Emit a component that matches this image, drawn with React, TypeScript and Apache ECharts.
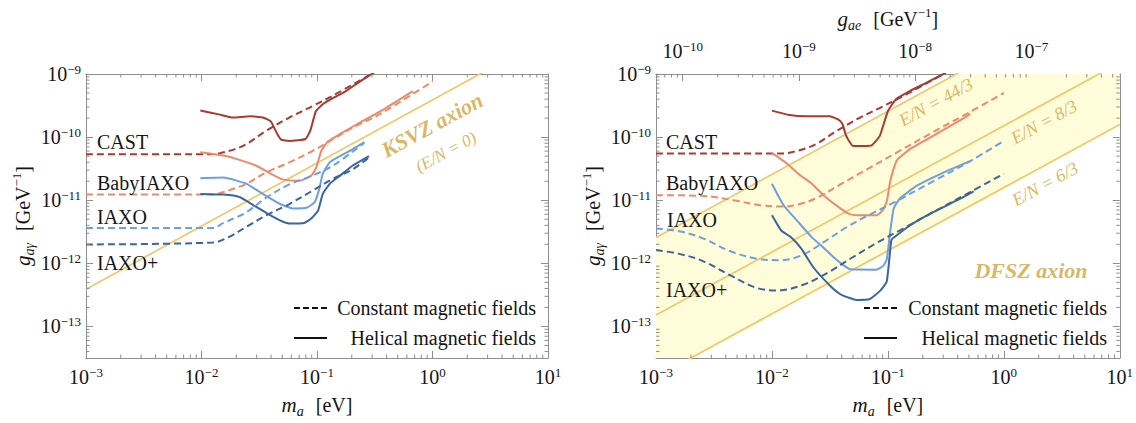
import React, { useEffect, useRef } from "react";
import * as echarts from "echarts";

// Values read from the log–log picture, stored as exponents:
// [log10(m_a / eV), log10(g / GeV^-1)]

// ---- left panel (KSVZ) ----
const castConstL = [[-3, -10.27], [-1.9, -10.27], [-1.81, -10.24], [-1.71, -10.19], [-1.61, -10.11], [-1.44, -9.9], [-1.24, -9.69], [-1.04, -9.51], [-0.86, -9.34], [-0.55, -9.02]];
const castHelL = [[-2.01, -9.58], [-1.85, -9.64], [-1.73, -9.69], [-1.58, -9.67], [-1.47, -9.69], [-1.4, -9.75], [-1.35, -9.93], [-1.31, -10.04], [-1.24, -10.06], [-1.1, -10.03], [-1.055, -9.88], [-1.01, -9.59], [-0.95, -9.48], [-0.86, -9.38], [-0.75, -9.27], [-0.63, -9.12], [-0.5, -8.97]];
const babyConstL = [[-3, -10.91], [-1.9, -10.91], [-1.81, -10.87], [-1.71, -10.81], [-1.61, -10.74], [-1.44, -10.56], [-1.24, -10.4], [-1.04, -10.22], [-0.86, -10.03], [-0.66, -9.82], [-0.46, -9.64], [0.0, -9.12]];
const babyHelL = [[-2.01, -10.24], [-1.76, -10.31], [-1.53, -10.45], [-1.38, -10.6], [-1.3, -10.67], [-1.15, -10.69], [-1.05, -10.61], [-1.006, -10.48], [-0.963, -10.22], [-0.906, -10.07], [-0.8, -9.95], [-0.63, -9.77], [-0.46, -9.6], [-0.17, -9.27]];
const iaxoConstL = [[-3, -11.44], [-1.9, -11.44], [-1.81, -11.36], [-1.71, -11.28], [-1.61, -11.19], [-1.44, -10.96], [-1.24, -10.75], [-1.04, -10.61], [-0.86, -10.45], [-0.59, -10.09]];
const iaxoHelL = [[-2.01, -10.65], [-1.81, -10.64], [-1.61, -10.74], [-1.47, -10.9], [-1.32, -11.06], [-1.21, -11.13], [-1.09, -11.12], [-1.02, -11.03], [-0.98, -10.82], [-0.95, -10.58], [-0.89, -10.4], [-0.8, -10.3], [-0.69, -10.19], [-0.59, -10.08]];
const iaxoPlusConstL = [[-3, -11.7], [-1.9, -11.67], [-1.76, -11.58], [-1.61, -11.42], [-1.44, -11.24], [-1.24, -11.06], [-1.04, -10.85], [-0.86, -10.66], [-0.69, -10.51], [-0.55, -10.32]];
const iaxoPlusHelL = [[-2.01, -10.9], [-1.81, -10.91], [-1.67, -10.95], [-1.55, -11.08], [-1.44, -11.2], [-1.32, -11.32], [-1.24, -11.37], [-1.11, -11.36], [-1.05, -11.29], [-0.99, -11.16], [-0.95, -10.9], [-0.89, -10.74], [-0.8, -10.61], [-0.69, -10.45], [-0.55, -10.3]];
const ksvzLine = [[-3, -12.41], [1, -8.41]];

// ---- right panel (DFSZ) ----
const castConstR = [[-3, -10.26], [-1.9, -10.26], [-1.81, -10.23], [-1.71, -10.18], [-1.61, -10.1], [-1.44, -9.9], [-1.24, -9.69], [-1.04, -9.51], [-0.86, -9.34], [-0.52, -9.0]];
const castHelR = [[-2.0, -9.58], [-1.85, -9.65], [-1.7, -9.67], [-1.5, -9.67], [-1.42, -9.73], [-1.39, -9.8], [-1.36, -9.98], [-1.3, -10.14], [-1.21, -10.14], [-1.14, -10.13], [-1.07, -9.98], [-1.0, -9.59], [-0.93, -9.4], [-0.81, -9.27], [-0.67, -9.14], [-0.5, -8.98]];
const babyConstR = [[-3, -10.92], [-2.61, -10.93], [-2.33, -11.0], [-2.1, -11.08], [-1.9, -11.1], [-1.76, -11.06], [-1.61, -10.96], [-1.41, -10.75], [-1.18, -10.51], [-0.9, -10.22], [-0.61, -9.92], [-0.3, -9.61], [0.0, -9.3]];
const babyHelR = [[-2.0, -10.25], [-1.87, -10.42], [-1.76, -10.6], [-1.66, -10.73], [-1.55, -10.93], [-1.41, -11.13], [-1.33, -11.22], [-1.23, -11.24], [-1.1, -11.24], [-1.04, -11.15], [-1.01, -11.02], [-0.98, -10.7], [-0.95, -10.5], [-0.92, -10.36], [-0.81, -10.19], [-0.61, -9.98], [-0.32, -9.67], [-0.29, -9.63]];
const iaxoConstR = [[-3, -11.45], [-2.8, -11.49], [-2.6, -11.6], [-2.37, -11.8], [-2.12, -11.93], [-1.92, -11.95], [-1.74, -11.87], [-1.55, -11.66], [-1.35, -11.42], [-1.18, -11.25], [-0.9, -10.99], [-0.61, -10.7], [-0.29, -10.38], [0.0, -10.06]];
const iaxoHelR = [[-2.0, -10.74], [-1.9, -11.08], [-1.78, -11.33], [-1.66, -11.58], [-1.55, -11.76], [-1.47, -11.9], [-1.39, -12.02], [-1.33, -12.09], [-1.1, -12.1], [-1.04, -12.04], [-1.01, -11.94], [-0.98, -11.5], [-0.95, -11.13], [-0.9, -10.98], [-0.75, -10.77], [-0.47, -10.52], [-0.29, -10.38]];
const iaxoPlusConstR = [[-3, -11.79], [-2.8, -11.85], [-2.6, -11.96], [-2.35, -12.2], [-2.13, -12.39], [-1.95, -12.43], [-1.73, -12.34], [-1.52, -12.15], [-1.3, -11.9], [-1.1, -11.68], [-0.9, -11.48], [-0.61, -11.19], [-0.29, -10.87], [0.0, -10.58]];
const iaxoPlusHelR = [[-2.0, -11.24], [-1.92, -11.48], [-1.84, -11.58], [-1.75, -11.76], [-1.64, -12.07], [-1.49, -12.37], [-1.41, -12.49], [-1.33, -12.55], [-1.27, -12.58], [-1.16, -12.57], [-1.07, -12.44], [-1.01, -12.29], [-0.97, -11.63], [-0.94, -11.58], [-0.81, -11.4], [-0.61, -11.19], [-0.38, -10.98], [-0.26, -10.86]];
const dfsz44Line = [[-3, -11.59], [1, -7.59]];
const dfsz8Line = [[-3, -12.82], [1, -8.82]];
const dfsz6Line = [[-3, -13.8], [1, -9.8]];

// axis ranges (exponents) and tick decades
const massRange = [-3, 1];
const couplingRange = [-13.5, -9];
const gaeRange = [-10.23, -6.24];
const minorMultipliers = [2, 3, 4, 5, 6, 7, 8, 9];

const FONT = "'Liberation Serif', 'Times New Roman', serif";
const C = {
  cast: "#A83B31",
  baby: "#EA8C6C",
  iaxo: "#6F9FDF",
  iaxoPlus: "#3B64A1",
  axion: "#EECB6F",
  band: "#FFFCDA",
  gold: "#D8B866",
  frame: "#8E8E8E",
  text: "#151515",
};

const p10 = (arr: number[][]) => arr.map(([a, b]) => [Math.pow(10, a), Math.pow(10, b)]);

function minorValues(range: number[]) {
  const out: number[] = [];
  const lo = Math.pow(10, range[0]);
  const hi = Math.pow(10, range[1]);
  for (let n = Math.floor(range[0]); n < Math.ceil(range[1]); n++) {
    for (const k of minorMultipliers) {
      const v = k * Math.pow(10, n);
      if (v > lo && v < hi) out.push(v);
    }
  }
  return out;
}

const tickFmt = (v: number) => {
  const e = Math.log10(v);
  const r = Math.round(e);
  if (Math.abs(e - r) > 0.02) return "";
  return `{b|10}{s|${r < 0 ? "\u2212" + Math.abs(r) : String(r)}}`;
};

const tickRich = {
  b: { fontFamily: FONT, fontSize: 20, color: C.text, lineHeight: 22 },
  s: { fontFamily: FONT, fontSize: 13, color: C.text, lineHeight: 11, verticalAlign: "top" },
};
const tickLabel = (margin: number) => ({
  formatter: tickFmt, rich: tickRich, margin, fontSize: 20, fontFamily: FONT, color: C.text,
});

const nameRich = {
  i: { fontFamily: FONT, fontStyle: "italic", fontSize: 21, color: C.text, lineHeight: 26 },
  n: { fontFamily: FONT, fontSize: 20, color: C.text, lineHeight: 26 },
  sub: { fontFamily: FONT, fontStyle: "italic", fontSize: 14, color: C.text, lineHeight: 10, verticalAlign: "bottom" },
  sup: { fontFamily: FONT, fontSize: 13, color: C.text, lineHeight: 10, verticalAlign: "top" },
  gap: { width: 12 },
};

const baseAxis = {
  type: "log",
  logBase: 10,
  axisLine: { show: true, onZero: false, lineStyle: { color: C.frame, width: 1 } },
  axisTick: { show: true, inside: true, length: 7, lineStyle: { color: C.frame, width: 1 } },
  splitLine: { show: false },
};

function buildOption() {
  const mMin = Math.pow(10, massRange[0]);
  const mMax = Math.pow(10, massRange[1]);
  const gMin = Math.pow(10, couplingRange[0]);
  const gMax = Math.pow(10, couplingRange[1]);

  const xName = "{i|m}{sub|a}{gap|}{n|[eV]}";
  const yName = "{i|g}{sub|a\u03b3}{gap|}{n|[GeV}{sup|\u22121}{n|]}";

  const xAxis = [
    { ...baseAxis, gridIndex: 0, position: "bottom", min: mMin, max: mMax,
      axisLabel: tickLabel(8),
      name: xName, nameLocation: "middle", nameGap: 34, nameTextStyle: { rich: nameRich } },
    { ...baseAxis, gridIndex: 0, position: "top", min: mMin, max: mMax, axisLabel: { show: false } },
    { ...baseAxis, gridIndex: 1, position: "bottom", min: mMin, max: mMax,
      axisLabel: tickLabel(8),
      name: xName, nameLocation: "middle", nameGap: 34, nameTextStyle: { rich: nameRich } },
    { ...baseAxis, gridIndex: 1, position: "top", min: Math.pow(10, gaeRange[0]), max: Math.pow(10, gaeRange[1]),
      axisLabel: tickLabel(12),
      name: "{i|g}{sub|ae}{gap|}{n|[GeV}{sup|\u22121}{n|]}", nameLocation: "middle", nameGap: 42, nameTextStyle: { rich: nameRich } },
  ];
  const yAxis = [
    { ...baseAxis, gridIndex: 0, position: "left", min: gMin, max: gMax,
      axisLabel: tickLabel(5),
      name: yName, nameLocation: "middle", nameGap: 50, nameTextStyle: { rich: nameRich } },
    { ...baseAxis, gridIndex: 0, position: "right", min: gMin, max: gMax, axisLabel: { show: false } },
    { ...baseAxis, gridIndex: 1, position: "left", min: gMin, max: gMax,
      axisLabel: tickLabel(5),
      name: yName, nameLocation: "middle", nameGap: 50, nameTextStyle: { rich: nameRich } },
    { ...baseAxis, gridIndex: 1, position: "right", min: gMin, max: gMax, axisLabel: { show: false } },
  ];

  const curve = (data: number[][], color: string, dashed: boolean, panel: number, z = 3) => ({
    type: "line",
    xAxisIndex: panel === 0 ? 0 : 2,
    yAxisIndex: panel === 0 ? 0 : 2,
    data: p10(data),
    symbol: "none",
    smooth: dashed ? 0.35 : 0.15,
    silent: true,
    z,
    clip: true,
    lineStyle: { color, width: 2, type: dashed ? [7, 4] : "solid" },
  });

  const axionLine = (data: number[][], panel: number) => ({
    type: "line",
    xAxisIndex: panel === 0 ? 0 : 2,
    yAxisIndex: panel === 0 ? 0 : 2,
    data: p10(data),
    symbol: "none",
    silent: true,
    z: 2,
    clip: true,
    lineStyle: { color: C.axion, width: 1.8 },
  });

  const bandPts = p10([dfsz44Line[0], dfsz44Line[1], dfsz6Line[1], dfsz6Line[0]]);
  const band = {
    type: "custom",
    coordinateSystem: "cartesian2d",
    xAxisIndex: 2,
    yAxisIndex: 2,
    data: bandPts,
    silent: true,
    clip: true,
    z: 1,
    renderItem: (params: any, api: any) => {
      if (params.dataIndex !== 0) return null;
      const cs = params.coordSys;
      const pts = bandPts.map((p) => api.coord(p));
      return {
        type: "group",
        clipPath: { type: "rect", shape: { x: cs.x, y: cs.y, width: cs.width, height: cs.height } },
        children: [{ type: "polygon", shape: { points: pts }, style: { fill: C.band } }],
      };
    },
  };

  const minor = (xi: number, yi: number, values: number[], dir: "x" | "y", sides: string[]) => ({
    type: "custom",
    coordinateSystem: "cartesian2d",
    xAxisIndex: xi,
    yAxisIndex: yi,
    silent: true,
    z: 10,
    data: values.map((v) => (dir === "x" ? [v, 1e-11] : [0.1, v])),
    renderItem: (params: any, api: any) => {
      const p = api.coord([api.value(0), api.value(1)]);
      const cs = params.coordSys;
      const L = 3.5;
      const st = { stroke: C.frame, lineWidth: 1 };
      const ch: any[] = [];
      if (dir === "x") {
        if (sides.includes("bottom")) ch.push({ type: "line", shape: { x1: p[0], y1: cs.y + cs.height, x2: p[0], y2: cs.y + cs.height - L }, style: st });
        if (sides.includes("top")) ch.push({ type: "line", shape: { x1: p[0], y1: cs.y, x2: p[0], y2: cs.y + L }, style: st });
      } else {
        if (sides.includes("left")) ch.push({ type: "line", shape: { x1: cs.x, y1: p[1], x2: cs.x + L, y2: p[1] }, style: st });
        if (sides.includes("right")) ch.push({ type: "line", shape: { x1: cs.x + cs.width, y1: p[1], x2: cs.x + cs.width - L, y2: p[1] }, style: st });
      }
      return { type: "group", children: ch };
    },
  });

  const mMinor = minorValues(massRange);
  const gMinor = minorValues(couplingRange);
  const gaeMinor = minorValues(gaeRange);

  const series: any[] = [
    band,
    axionLine(ksvzLine, 0),
    axionLine(dfsz44Line, 1),
    axionLine(dfsz8Line, 1),
    axionLine(dfsz6Line, 1),
    curve(castConstL, C.cast, true, 0),
    curve(castHelL, C.cast, false, 0),
    curve(babyConstL, C.baby, true, 0),
    curve(babyHelL, C.baby, false, 0),
    curve(iaxoConstL, C.iaxo, true, 0),
    curve(iaxoHelL, C.iaxo, false, 0),
    curve(iaxoPlusConstL, C.iaxoPlus, true, 0),
    curve(iaxoPlusHelL, C.iaxoPlus, false, 0),
    curve(castConstR, C.cast, true, 1),
    curve(castHelR, C.cast, false, 1),
    curve(babyConstR, C.baby, true, 1),
    curve(babyHelR, C.baby, false, 1),
    curve(iaxoConstR, C.iaxo, true, 1),
    curve(iaxoHelR, C.iaxo, false, 1),
    curve(iaxoPlusConstR, C.iaxoPlus, true, 1),
    curve(iaxoPlusHelR, C.iaxoPlus, false, 1),
    minor(0, 0, mMinor, "x", ["bottom", "top"]),
    minor(0, 0, gMinor, "y", ["left", "right"]),
    minor(2, 2, mMinor, "x", ["bottom"]),
    minor(3, 2, gaeMinor, "x", ["top"]),
    minor(2, 2, gMinor, "y", ["left", "right"]),
  ];

  const label = (text: string, x: number, y: number) => ({
    type: "text", x, y, z: 20,
    style: { text, fontFamily: FONT, fontSize: 20, fill: C.text, align: "left", verticalAlign: "middle" },
  });
  const gold = (text: string, x: number, y: number, size: number, bold: boolean) => ({
    type: "text", x, y, rotation: 0.5, z: 20,
    style: { text, fontFamily: FONT, fontSize: size, fontStyle: "italic", fontWeight: bold ? "bold" : "normal", fill: C.gold, align: "center", verticalAlign: "middle" },
  });
  const legend = (x0: number, xr: number) => [
    { type: "line", z: 20, shape: { x1: x0, y1: 308, x2: x0 + 33, y2: 308 }, style: { stroke: "#111", lineWidth: 2, lineDash: [6, 3] } },
    { type: "text", z: 20, x: xr, y: 308, style: { text: "Constant magnetic fields", fontFamily: FONT, fontSize: 20, fill: C.text, align: "right", verticalAlign: "middle" } },
    { type: "line", z: 20, shape: { x1: x0, y1: 338, x2: x0 + 33, y2: 338 }, style: { stroke: "#111", lineWidth: 2 } },
    { type: "text", z: 20, x: xr, y: 338, style: { text: "Helical magnetic fields", fontFamily: FONT, fontSize: 20, fill: C.text, align: "right", verticalAlign: "middle" } },
  ];

  const graphic = [
    label("CAST", 97, 142),
    label("BabyIAXO", 97, 183),
    label("IAXO", 97, 217),
    label("IAXO+", 97, 263),
    label("CAST", 666, 142),
    label("BabyIAXO", 666, 183),
    label("IAXO", 667, 220),
    label("IAXO+", 666, 290),
    gold("KSVZ axion", 432, 125, 22, true),
    gold("(E/N = 0)", 446, 152, 17, false),
    gold("E/N = 44/3", 936, 102, 18, false),
    gold("E/N = 8/3", 1044, 122, 18, false),
    gold("E/N = 6/3", 1045, 184, 18, false),
    { type: "text", x: 1031, y: 270, z: 20, style: { text: "DFSZ axion", fontFamily: FONT, fontSize: 22, fontStyle: "italic", fontWeight: "bold", fill: C.gold, align: "center", verticalAlign: "middle" } },
    ...legend(294, 536),
    ...legend(864, 1107),
  ];

  return {
    animation: false,
    backgroundColor: "#ffffff",
    textStyle: { fontFamily: FONT },
    grid: [
      { left: 86, top: 74, width: 462, height: 287, containLabel: false },
      { left: 656, top: 74, width: 464, height: 287, containLabel: false },
    ],
    xAxis,
    yAxis,
    series,
    graphic,
  };
}

export default function App() {
  const ref = useRef<HTMLDivElement>(null);
  useEffect(() => {
    if (!ref.current) return;
    const chart = echarts.init(ref.current, undefined, { renderer: "svg", width: 1136, height: 423 });
    chart.setOption(buildOption() as any);
    return () => chart.dispose();
  }, []);
  return (
    <div
      ref={ref}
      style={{ position: "absolute", left: 0, top: 0, width: 1136, height: 423, background: "#fff" }}
    />
  );
}
